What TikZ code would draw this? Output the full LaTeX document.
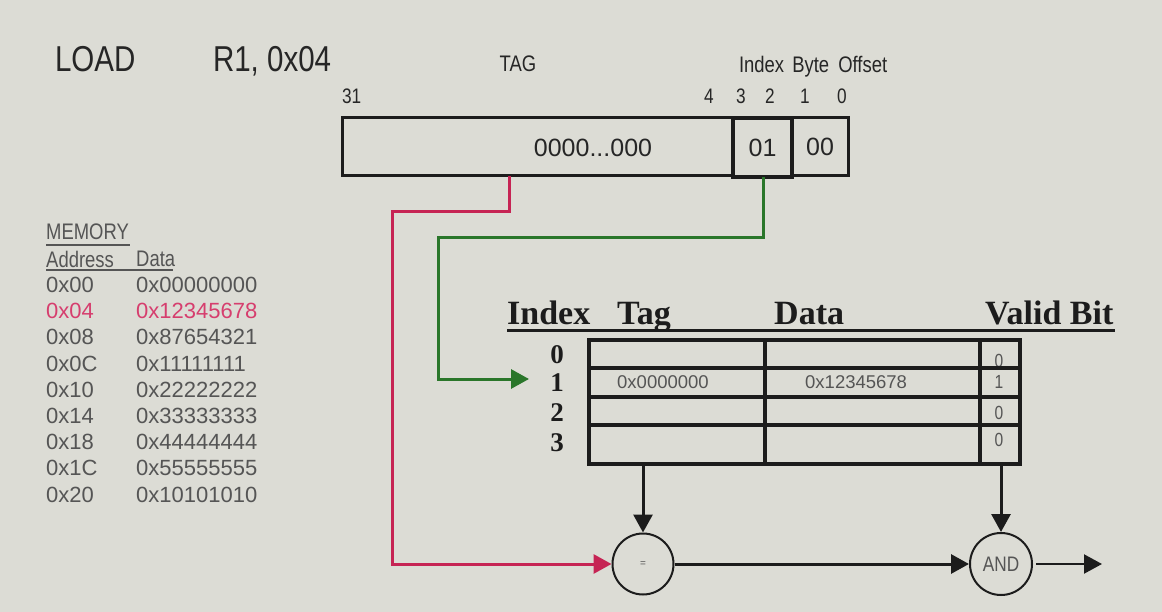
\documentclass[tikz,border=0pt]{standalone}
\usepackage{fontspec}
\setmainfont{Liberation Sans}
\newfontfamily\cond[FakeStretch=0.82]{Liberation Sans}
\newfontfamily\tms{Liberation Serif}
\usetikzlibrary{arrows.meta,calc}
\newcommand\fsz[1]{\fontsize{#1}{#1}\selectfont}
\definecolor{bgc}{RGB}{220,220,213}
\definecolor{txt}{RGB}{38,38,38}
\definecolor{memc}{RGB}{85,85,85}
\definecolor{redl}{RGB}{198,36,84}
\definecolor{redt}{RGB}{214,62,110}
\definecolor{grn}{RGB}{42,118,42}
\definecolor{blk}{RGB}{28,28,28}
\tikzset{
  lbl/.style={inner sep=0pt, outer sep=0pt, text=txt},
  field/.style={draw=blk, line width=3pt, inner sep=0pt, outer sep=0pt},
  tblline/.style={draw=blk, line width=3.2pt},
  hdr/.style={inner sep=0pt, anchor=base west, text=blk, font=\tms\bfseries\fsz{34}},
  idxd/.style={inner sep=0pt, anchor=base, text=blk, font=\tms\bfseries\fsz{27}},
  cell/.style={inner sep=0pt, anchor=west, text=memc, font=\fsz{18.5}},
  vbit/.style={inner sep=0pt, text=memc, font=\cond\fsz{19}},
  mem/.style={inner sep=0pt, anchor=west, text=memc, font=\fsz{22}},
  memh/.style={inner sep=0pt, anchor=west, text=memc, font=\cond\fsz{22.5}},
  gate/.style={circle, draw=blk, line width=2pt, inner sep=0pt},
  tip/.style={-{Triangle[length=18pt,width=19pt]}},
  wire/.style={line width=3pt},
}
\begin{document}
\begin{tikzpicture}[x=1pt,y=-1pt]
\fill[bgc] (0,0) rectangle (1162,612);
\useasboundingbox (0,0) rectangle (1162,612);

% title
\node[lbl, anchor=base west, font=\cond\fsz{36}] (load) at (55,72) {LOAD};
\node[lbl, anchor=base west, font=\cond\fsz{36}] (r1) at (213,72) {R1, 0x04};

% address labels
\node[lbl, anchor=base, font=\cond\fsz{22.5}] (taglbl) at (518,72) {TAG};
\node[lbl, anchor=base west, font=\cond\fsz{22.5}] (ibo) at (739,73) {Index\hspace{3pt} Byte\hspace{4pt} Offset};
\node[lbl, anchor=base west, font=\cond\fsz{21}] (b31) at (342,104) {31};
\node[lbl, anchor=base, font=\cond\fsz{21}] (b4) at (709,104) {4};
\node[lbl, anchor=base, font=\cond\fsz{21}] (b3) at (741,104) {3};
\node[lbl, anchor=base, font=\cond\fsz{21}] (b2) at (770,104) {2};
\node[lbl, anchor=base, font=\cond\fsz{21}] (b1) at (805,104) {1};
\node[lbl, anchor=base, font=\cond\fsz{21}] (b0) at (842,104) {0};

% address fields
\node[field, minimum width=391pt, minimum height=58pt] (tagf) at (537.5,147) {};
\node[field, minimum width=56pt, minimum height=58pt] (offf) at (820,147) {};
\node[field, line width=3.6pt, minimum width=59pt, minimum height=59pt] (idxf) at (762.5,147.5) {};
\node[lbl, font=\fsz{25}] (tagval) at (593,148) {0000...000};
\node[lbl, font=\fsz{25}] (idxval) at (idxf.center) {01};
\node[lbl, font=\fsz{25}] (offval) at (offf.center) {00};

% memory
\node[memh] (memt) at (46,232) {MEMORY};
\draw[memc, line width=1.6pt] (memt.south west) ++(0,5) -- ++(84,0);
\node[memh] (addrh) at (46,259) {Address};
\node[memh] (datah) at (136,259) {Data};
\draw[memc, line width=1.6pt] (46,270) -- (173,270);
\foreach \i/\a/\d in {0/0x00/0x00000000,2/0x08/0x87654321,3/0x0C/0x11111111,4/0x10/0x22222222,5/0x14/0x33333333,6/0x18/0x44444444,7/0x1C/0x55555555,8/0x20/0x10101010}{
  \node[mem] (ma\i) at (46,285+26.2*\i) {\a};
  \node[mem] (md\i) at (136,285+26.2*\i) {\d};
}
\node[mem, text=redt] (ma1) at (46,311.2) {0x04};
\node[mem, text=redt] (md1) at (136,311.2) {0x12345678};

% cache header
\node[hdr] (hidx) at (507,325) {Index};
\node[hdr] (htag) at (617,325) {Tag};
\node[hdr] (hdat) at (774,325) {Data};
\node[hdr] (hval) at (985,325) {Valid Bit};
\draw[blk, line width=3pt] (507,331) -- (1115,331);

% index digits
\node[idxd] (i0) at (557,363) {0};
\node[idxd] (i1) at (557,391) {1};
\node[idxd] (i2) at (557,421) {2};
\node[idxd] (i3) at (557,451) {3};

% cell contents
\node[cell] (t1) at (617,382) {0x0000000};
\node[cell] (d1) at (805,382) {0x12345678};
\node[vbit] (v0) at (999,361) {0};
\node[vbit] (v1) at (999,382) {1};
\node[vbit] (v2) at (999,413) {0};
\node[vbit] (v3) at (999,440) {0};

% table
\node[tblline, inner sep=0pt, outer sep=0pt, minimum width=431pt, minimum height=124pt, anchor=north west] (tbl) at (589,340) {};
\foreach \yy in {368,397,425}{
  \draw[tblline] (589,\yy) -- (1020,\yy);
}
\foreach \xx in {765,980}{
  \draw[tblline] (\xx,340) -- (\xx,464);
}

% gates
\node[gate, minimum size=61pt] (eq) at (643,564) {\textcolor{memc}{\fsz{10}=}};
\node[gate, minimum size=62pt, text=memc, font=\cond\fsz{21}] (and) at (1001,564) {AND};
\coordinate (outc) at (1102,564);

% red tag path
\coordinate (rA) at (509,212);
\coordinate (rB) at (392,212);
\draw[redl, wire, tip] (tagf.south -| rA) -- (rA) -- (rB) |- (eq.west);

% green index path
\coordinate (gA) at (763,238);
\coordinate (gB) at (438,238);
\coordinate (gT) at (529,379);
\draw[grn, wire, tip] (idxf.south -| gA) -- (gA) -- (gB) |- (gT);

% black arrows
\draw[blk, wire, tip] (eq.north |- tbl.south) -- (eq.north);
\draw[blk, wire, tip] (and.north |- tbl.south) -- (and.north);
\draw[blk, wire, tip] (eq.east) -- (and.west);
\draw[blk, line width=2.2pt, tip, shorten <=3pt] (and.east) -- (outc);
\end{tikzpicture}
\end{document}
